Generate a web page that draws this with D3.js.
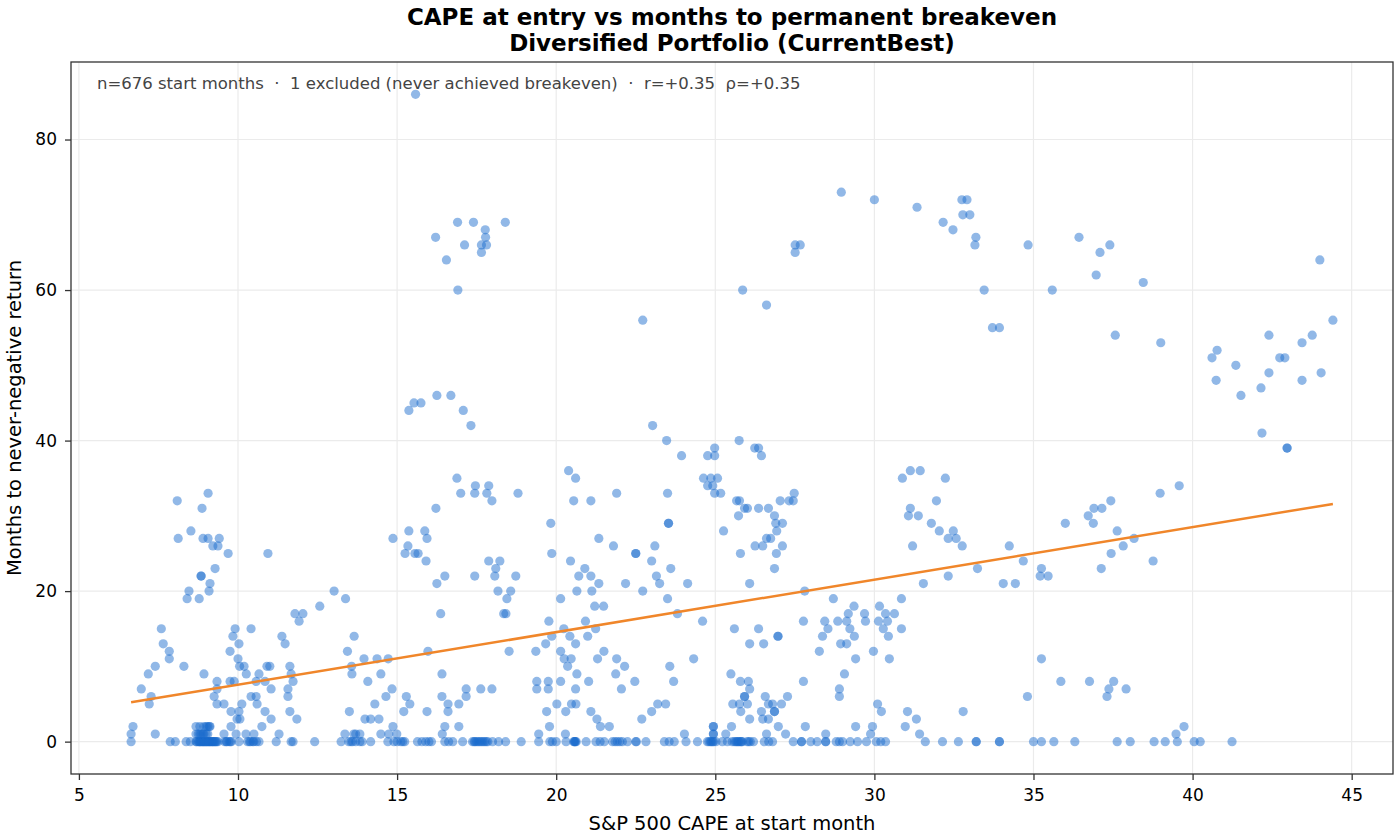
<!DOCTYPE html>
<html>
<head>
<meta charset="utf-8">
<script src="https://cdn.jsdelivr.net/npm/d3@7"></script>
<style>
body { margin: 0; background: #fff; }
text { font-family: "DejaVu Sans", sans-serif; }
</style>
</head>
<body>
<svg id="chart" width="1400" height="840"></svg>
<script>
// CAPE at start month for every start month that broke even immediately (0 months)
var zeroMonthCape = [
  6.64, 7.87, 8.03, 8.37, 8.5, 8.68, 8.7, 8.75, 8.78, 8.8, 8.85, 8.88, 8.9, 8.92, 8.95, 9.0, 9.02,
  9.05, 9.08, 9.1, 9.12, 9.15, 9.18, 9.2, 9.22, 9.25, 9.28, 9.3, 9.33, 9.37, 8.82, 8.97, 9.58, 9.63,
  9.65, 9.72, 9.76, 9.79, 10.03, 10.3, 10.36, 10.4, 10.47, 10.5, 10.58, 10.66, 11.2, 11.67, 11.73,
  12.41, 13.24, 13.48, 13.55, 13.6, 13.7, 13.83, 13.9, 14.17, 14.71, 14.9, 15.0, 15.12, 15.18,
  15.24, 15.64, 15.78, 15.9, 16.0, 16.08, 16.5, 16.62, 16.75, 17.06, 17.37, 17.42, 17.45, 17.5,
  17.55, 17.6, 17.65, 17.7, 17.75, 17.8, 17.85, 18.0, 18.19, 18.41, 18.9, 19.45, 19.8, 19.88, 20.0,
  20.31, 20.55, 20.57, 20.59, 20.6, 20.63, 20.94, 21.25, 21.38, 21.51, 21.77, 21.85, 21.92, 22.0,
  22.08, 22.24, 22.5, 22.52, 22.82, 23.4, 23.55, 23.71, 24.08, 24.44, 24.75, 24.8, 24.85, 24.88,
  24.92, 24.95, 25.02, 25.22, 25.38,
  25.53, 25.6, 25.65, 25.68, 25.72, 25.75, 25.8, 25.82, 25.85, 26.0, 26.05, 26.1, 26.2, 26.54,
  26.68, 26.8, 27.45, 27.71, 27.71, 28.0, 28.2, 28.47, 28.47, 28.8, 28.9, 29.0, 29.24, 29.47,
  29.75, 30.06, 30.2, 30.35, 31.6, 32.14, 32.64, 33.2, 33.2, 33.93, 33.93, 35.0, 35.25, 35.64,
  36.3, 37.63, 38.04, 38.79, 39.14, 39.52, 40.05, 40.24, 41.24
];

// [months to breakeven, CAPE values of the start months with that wait], 1-11 months
var shortWaitRows = [
  [1, [6.64, 7.4, 8.68, 8.75, 8.8, 8.84, 8.9, 8.93, 9.0, 9.05, 9.56, 9.94, 10.25, 10.5, 11.29, 13.36,
       13.64, 13.7, 13.83, 14.49, 14.74, 14.99, 16.42, 19.45, 20.29, 24.03, 24.94, 24.94, 25.33,
       26.61, 27.21, 28.47, 29.88, 31.42, 39.48]],
  [2, [6.7, 8.68, 8.8, 8.93, 9.0, 9.05, 9.1, 9.12, 9.78, 10.75, 14.87, 16.5, 16.94, 19.79, 21.39,
       21.67, 24.94, 24.94, 25.51, 26.98, 27.83, 29.41, 29.94, 30.97, 39.73]],
  [3, [9.97, 10.06, 11.04, 11.85, 13.99, 14.17, 14.43, 21.28, 22.69, 26.08, 26.49, 26.67, 31.32]],
  [4, [9.78, 10.03, 10.85, 11.63, 13.5, 15.21, 15.94, 16.6, 19.7, 20.3, 21.09, 23.0, 25.8, 26.45,
       26.86, 26.86, 30.22, 31.04, 32.79]],
  [5, [7.21, 9.34, 9.56, 10.12, 10.6, 14.3, 15.4, 16.6, 16.94, 20.02, 20.48, 20.62, 23.19, 23.44,
       25.55, 25.76, 26.01, 26.67, 26.8, 27.08, 30.1]],
  [6, [7.27, 9.25, 10.41, 10.57, 11.57, 14.65, 15.29, 16.41, 17.17, 25.92, 25.92, 26.57, 27.27,
       28.9, 34.81, 37.31]],
  [7, [6.96, 9.34, 11.04, 11.57, 14.84, 17.17, 17.63, 17.98, 19.39, 19.75, 20.61, 22.05, 26.08,
       28.9, 37.37, 37.91]],
  [8, [9.34, 9.75, 9.88, 10.57, 10.85, 11.73, 14.08, 19.39, 19.75, 20.14, 21.02, 22.47, 23.69,
       25.79, 26.04, 27.77, 35.86, 36.76, 37.52]],
  [9, [7.18, 8.93, 10.26, 10.66, 11.67, 13.58, 14.49, 16.41, 20.65, 21.87, 25.49, 29.06]],
  [10, [7.4, 8.3, 10.05, 10.19, 10.91, 11.0, 11.63, 13.57, 20.36, 22.15, 23.57]],
  [11, [7.84, 10.0, 13.96, 14.37, 14.72, 20.25, 20.47, 21.3, 21.9, 24.32, 29.41, 30.47, 35.25]]
];

// 12-35 months
var midWaitRows = [
  [12, [7.84, 9.75, 13.44, 15.97, 18.52, 19.36, 20.14, 21.5, 28.27, 29.97]],
  [13, [7.65, 10.03, 11.48, 19.67, 20.61, 26.08, 26.52, 28.94, 29.13]],
  [14, [9.84, 11.38, 13.65, 19.86, 20.43, 20.99, 26.97, 26.97, 28.37, 29.37, 30.44]],
  [15, [7.59, 9.91, 10.41, 20.24, 21.24, 25.6, 26.36, 28.54, 29.23, 30.28, 30.85]],
  [16, [11.92, 19.77, 20.92, 24.6, 27.77, 28.44, 28.85, 29.13, 29.72, 30.13, 30.41]],
  [17, [11.79, 12.04, 16.37, 18.35, 18.42, 23.81, 29.18, 29.69, 30.35, 30.63]],
  [18, [12.57, 21.21, 21.49, 29.36, 30.16]],
  [19, [8.4, 8.78, 13.38, 18.45, 20.14, 23.5, 28.71, 30.85]],
  [20, [8.46, 9.09, 13.02, 18.17, 18.57, 20.65, 21.12, 22.72, 27.81]],
  [21, [9.12, 16.25, 21.34, 22.18, 23.25, 24.13, 26.08, 31.54, 34.05, 34.43]],
  [22, [8.84, 8.84, 16.5, 17.44, 18.07, 18.73, 20.71, 21.09, 23.15, 32.32, 35.21, 35.46]],
  [23, [9.28, 18.1, 20.9, 23.6, 26.86, 33.24, 35.25, 37.13]],
  [24, [15.91, 17.88, 18.23, 20.45, 23.0, 34.68, 38.76]],
  [25, [9.69, 10.94, 15.25, 15.56, 15.66, 19.86, 22.5, 22.5, 25.79, 26.92, 37.44]],
  [26, [9.21, 9.37, 15.34, 21.8, 23.1, 26.25, 26.49, 27.11, 31.2, 32.76, 34.24, 37.82]],
  [27, [8.12, 8.9, 9.06, 9.41, 14.87, 15.94, 21.34, 26.61, 26.74, 32.32, 32.57, 38.16]],
  [28, [8.52, 15.37, 15.87, 25.26, 26.93, 32.04, 32.48, 37.63]],
  [29, [19.83, 23.53, 23.53, 26.9, 27.11, 31.79, 36.0, 36.88]],
  [30, [25.73, 26.86, 31.07, 31.38, 36.72]],
  [31, [8.87, 16.22, 25.92, 26.01, 26.36, 26.67, 31.13, 36.9, 37.15]],
  [32, [8.09, 17.98, 20.55, 21.09, 25.67, 25.76, 27.04, 27.32, 27.45, 31.95, 37.43]],
  [33, [9.06, 17.0, 17.44, 17.82, 18.8, 21.9, 23.5, 24.98, 25.17, 27.48, 38.98]],
  [34, [17.46, 17.88, 24.76, 24.92, 39.58]],
  [35, [16.88, 20.61, 24.63, 24.86, 25.07, 30.88, 32.23]]
];

// 36 months and longer
var longWaitRows = [
  [36, [20.39, 31.13, 31.44]], [38, [23.94, 24.76, 24.98, 26.45]],
  [39, [24.98, 26.24, 26.36, 42.97, 42.97]], [40, [23.47, 25.75]], [41, [42.18]],
  [42, [17.32, 23.03]], [44, [15.37, 17.08]], [45, [15.53, 15.75]], [46, [16.25, 16.69, 41.52]],
  [47, [42.15]], [48, [40.74, 43.44]], [49, [42.4, 44.04]], [50, [41.36]],
  [51, [40.61, 42.74, 42.9]], [52, [40.77]], [53, [39.0, 43.44]], [54, [37.57, 42.4, 43.76]],
  [55, [33.71, 33.93]], [56, [22.72, 44.41]], [58, [26.61]], [60, [16.91, 25.86, 33.45, 35.59]],
  [61, [38.45]], [62, [36.97]], [64, [16.55, 44.0]], [65, [17.65, 27.51, 37.09]],
  [66, [17.12, 17.65, 17.81, 27.51, 27.67, 33.16, 34.83, 37.4]], [67, [16.21, 17.78, 33.19, 36.43]],
  [68, [17.77, 32.47]], [69, [16.9, 17.4, 18.4, 32.16]], [70, [32.78, 33.0]], [71, [31.34]],
  [72, [30.0, 32.75, 32.91]], [73, [28.96]], [86, [15.58]]
];

// least-squares fit as drawn on the reference
var fitSlope = 0.698;
var fitIntercept = 0.585;

var xTicks = [5, 10, 15, 20, 25, 30, 35, 40, 45];
var yTicks = [0, 20, 40, 60, 80];

var titleLines = ["CAPE at entry vs months to permanent breakeven", "Diversified Portfolio (CurrentBest)"];
var statsNote = "n=676 start months  \u00b7  1 excluded (never achieved breakeven)  \u00b7  r=+0.35  \u03c1=+0.35";
var xLabel = "S&P 500 CAPE at start month";
var yLabel = "Months to never-negative return";

var points = zeroMonthCape.map(function (c) { return {cape: c, months: 0}; });
shortWaitRows.concat(midWaitRows, longWaitRows).forEach(function (row) {
    row[1].forEach(function (c) { points.push({cape: c, months: row[0]}); });
});

var margin = {top: 62, right: 7, bottom: 66, left: 71};
var width = 1400 - margin.left - margin.right;
var height = 840 - margin.top - margin.bottom;

var svg = d3.select('#chart');
var g = svg.append('g').attr('transform', 'translate(' + margin.left + ',' + margin.top + ')');

var capeExtent = d3.extent(points, function (d) { return d.cape; });
var capePad = (capeExtent[1] - capeExtent[0]) * 0.05;
var monthMax = d3.max(points, function (d) { return d.months; });
var monthPad = monthMax * 0.05;

var x = d3.scaleLinear().domain([capeExtent[0] - capePad, capeExtent[1] + capePad]).range([0, width]);
var y = d3.scaleLinear().domain([-monthPad, monthMax + monthPad]).range([height, 0]);

// grid
g.append('g').selectAll('line').data(xTicks).enter().append('line')
    .attr('x1', function (d) { return x(d); }).attr('x2', function (d) { return x(d); })
    .attr('y1', 0).attr('y2', height)
    .attr('stroke', '#ebebeb').attr('stroke-width', 1.2);
g.append('g').selectAll('line').data(yTicks).enter().append('line')
    .attr('y1', function (d) { return y(d); }).attr('y2', function (d) { return y(d); })
    .attr('x1', 0).attr('x2', width)
    .attr('stroke', '#ebebeb').attr('stroke-width', 1.2);

// points
g.append('g').selectAll('circle')
    .data(points).enter()
    .append('circle')
    .attr('cx', function (d) { return x(d.cape); })
    .attr('cy', function (d) { return y(d.months); })
    .attr('r', 4.6)
    .attr('fill', '#1a6bcc')
    .attr('fill-opacity', 0.48);

// trend line over the data range
var trend = capeExtent.map(function (c) { return [c, fitIntercept + fitSlope * c]; });
g.append('path')
    .datum(trend)
    .attr('d', d3.line().x(function (d) { return x(d[0]); }).y(function (d) { return y(d[1]); }))
    .attr('fill', 'none')
    .attr('stroke', '#f0862a')
    .attr('stroke-width', 2.5);

// axes
var xAxis = g.append('g').attr('transform', 'translate(0,' + height + ')')
    .call(d3.axisBottom(x).tickValues(xTicks).tickSize(6).tickPadding(9).tickFormat(d3.format('d')));
var yAxis = g.append('g')
    .call(d3.axisLeft(y).tickValues(yTicks).tickSize(6).tickPadding(8).tickFormat(d3.format('d')));
[xAxis, yAxis].forEach(function (a) {
    a.select('.domain').remove();
    a.selectAll('text').attr('font-family', '"DejaVu Sans", sans-serif').attr('font-size', 17).attr('fill', '#000');
    a.selectAll('line').attr('stroke', '#333').attr('stroke-width', 1.3);
});

g.append('rect')
    .attr('width', width).attr('height', height)
    .attr('fill', 'none').attr('stroke', '#333').attr('stroke-width', 1.3);

// texts
svg.append('g').selectAll('text').data(titleLines).enter().append('text')
    .attr('x', margin.left + width / 2)
    .attr('y', function (d, i) { return 25 + i * 26; })
    .attr('text-anchor', 'middle')
    .attr('font-size', 23).attr('font-weight', 'bold')
    .text(function (d) { return d; });

g.append('text')
    .attr('x', 26).attr('y', 27)
    .attr('font-size', 16.5).attr('fill', '#444')
    .attr('xml:space', 'preserve')
    .style('white-space', 'pre')
    .text(statsNote);

svg.append('text')
    .attr('x', margin.left + width / 2).attr('y', 830)
    .attr('text-anchor', 'middle').attr('font-size', 19.5)
    .text(xLabel);

svg.append('text')
    .attr('transform', 'translate(21,' + (margin.top + height / 2) + ') rotate(-90)')
    .attr('text-anchor', 'middle').attr('font-size', 19.5)
    .text(yLabel);
</script>
</body>
</html>
